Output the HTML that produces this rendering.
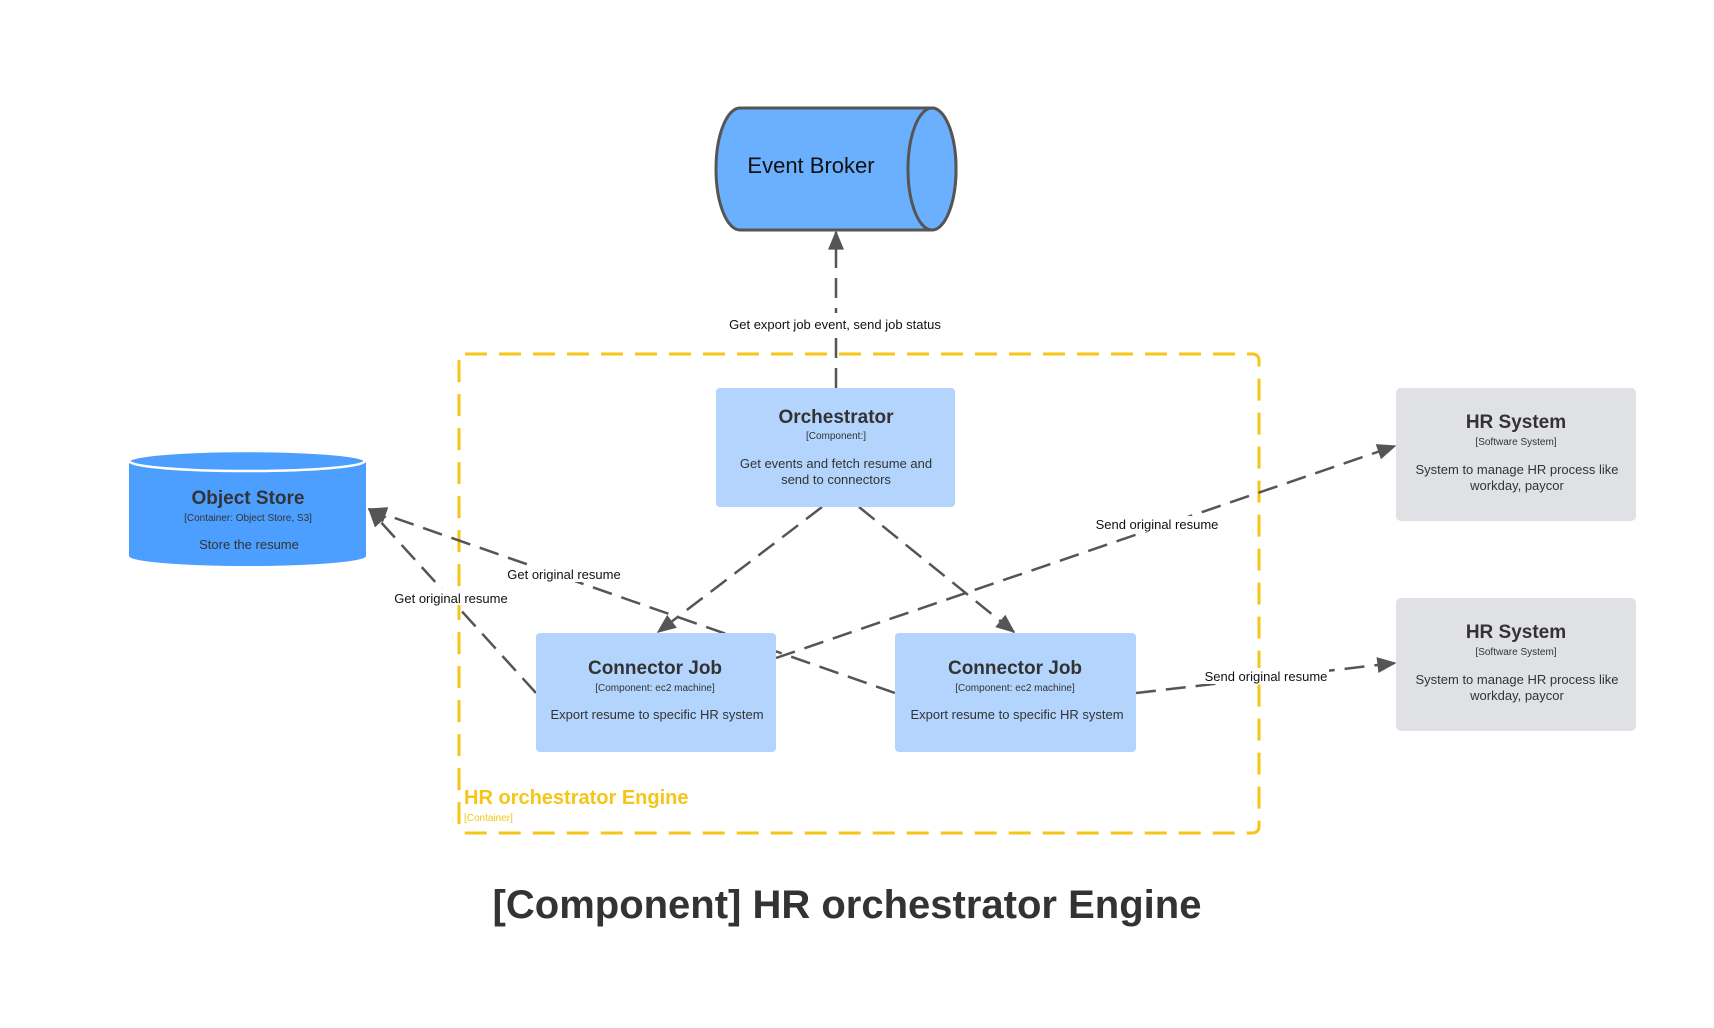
<!DOCTYPE html>
<html><head><meta charset="utf-8"><style>
html,body{margin:0;padding:0;background:#fff;}
svg text{font-family:"Liberation Sans",Arial,sans-serif;}
</style></head><body>
<svg width="1714" height="1023" viewBox="0 0 1714 1023" xmlns="http://www.w3.org/2000/svg">
<defs>
<marker id="ar" viewBox="0 0 12 10" refX="11" refY="5" markerWidth="20" markerHeight="16" orient="auto" markerUnits="userSpaceOnUse"><path d="M0,0 L12,5 L0,10 Z" fill="#555"/></marker>
</defs>
<!-- container -->
<rect x="459" y="354" width="800" height="479" rx="6" fill="none" stroke="#f5c518" stroke-width="3" stroke-dasharray="22 12"/>
<text x="464" y="804" font-size="20" font-weight="bold" fill="#f5c518">HR orchestrator Engine</text>
<text x="464" y="821" font-size="10" fill="#f5c518">[Container]</text>

<!-- Event Broker -->
<path d="M740,108 L932,108 A24,61 0 0 1 932,230 L740,230 A24,61 0 0 1 740,108 Z" fill="#6ab0fe" stroke="#555" stroke-width="3"/>
<ellipse cx="932" cy="169" rx="24" ry="61" fill="#6ab0fe" stroke="#555" stroke-width="3"/>
<text x="811" y="173" font-size="22" text-anchor="middle" fill="#111">Event Broker</text>

<!-- edges -->
<g stroke="#555" stroke-width="2.5" stroke-dasharray="20 10" fill="none" marker-end="url(#ar)">
<line x1="836" y1="388" x2="836" y2="232"/>
<line x1="822" y1="507" x2="658" y2="632"/>
<line x1="859" y1="507" x2="1014" y2="632"/>
<line x1="536" y1="693" x2="369" y2="509"/>
<line x1="895" y1="693" x2="369" y2="509"/>
<line x1="776" y1="658" x2="1395" y2="446"/>
<line x1="1136" y1="693" x2="1395" y2="663"/>
</g>
<g font-size="13" fill="#111" text-anchor="middle">
<rect x="722" y="313" width="226" height="17" fill="#fff"/>
<text x="835" y="329">Get export job event, send job status</text>
<rect x="393" y="589" width="116" height="16" fill="#fff"/>
<text x="451" y="603">Get original resume</text>
<rect x="506" y="566" width="116" height="16" fill="#fff"/>
<text x="564" y="579">Get original resume</text>
<rect x="1094" y="516" width="126" height="16" fill="#fff"/>
<text x="1157" y="529">Send original resume</text>
<rect x="1203" y="668" width="126" height="16" fill="#fff"/>
<text x="1266" y="681">Send original resume</text>
</g>

<!-- Orchestrator -->
<rect x="716" y="388" width="239" height="119" rx="4" fill="#b3d4fc"/>
<text x="836" y="423" font-size="19" font-weight="bold" text-anchor="middle" fill="#333">Orchestrator</text>
<text x="836" y="439" font-size="10" text-anchor="middle" fill="#333">[Component:]</text>
<text x="836" y="468" font-size="13" text-anchor="middle" fill="#333">Get events and fetch resume and</text>
<text x="836" y="484" font-size="13" text-anchor="middle" fill="#333">send to connectors</text>

<!-- Object Store -->
<path d="M129,461 L129,556 A118,10 0 0 0 366,556 L366,461 Z" fill="#4c9ffe"/>
<ellipse cx="247" cy="461" rx="118" ry="10" fill="#4c9ffe" stroke="#fff" stroke-width="2.5"/>
<text x="248" y="504" font-size="19" font-weight="bold" text-anchor="middle" fill="#333">Object Store</text>
<text x="248" y="521" font-size="10" text-anchor="middle" fill="#333">[Container: Object Store, S3]</text>
<text x="249" y="549" font-size="13" text-anchor="middle" fill="#333">Store the resume</text>

<!-- Connector Jobs -->
<rect x="536" y="633" width="240" height="119" rx="4" fill="#b3d4fc"/>
<text x="655" y="674" font-size="19" font-weight="bold" text-anchor="middle" fill="#333">Connector Job</text>
<text x="655" y="691" font-size="10" text-anchor="middle" fill="#333">[Component: ec2 machine]</text>
<text x="657" y="719" font-size="13" text-anchor="middle" fill="#333">Export resume to specific HR system</text>

<rect x="895" y="633" width="241" height="119" rx="4" fill="#b3d4fc"/>
<text x="1015" y="674" font-size="19" font-weight="bold" text-anchor="middle" fill="#333">Connector Job</text>
<text x="1015" y="691" font-size="10" text-anchor="middle" fill="#333">[Component: ec2 machine]</text>
<text x="1017" y="719" font-size="13" text-anchor="middle" fill="#333">Export resume to specific HR system</text>

<!-- HR Systems -->
<rect x="1396" y="388" width="240" height="133" rx="5" fill="#dfe1e5"/>
<text x="1516" y="428" font-size="19" font-weight="bold" text-anchor="middle" fill="#333">HR System</text>
<text x="1516" y="445" font-size="10" text-anchor="middle" fill="#333">[Software System]</text>
<text x="1517" y="474" font-size="13" text-anchor="middle" fill="#333">System to manage HR process like</text>
<text x="1517" y="490" font-size="13" text-anchor="middle" fill="#333">workday, paycor</text>

<rect x="1396" y="598" width="240" height="133" rx="5" fill="#dfe1e5"/>
<text x="1516" y="638" font-size="19" font-weight="bold" text-anchor="middle" fill="#333">HR System</text>
<text x="1516" y="655" font-size="10" text-anchor="middle" fill="#333">[Software System]</text>
<text x="1517" y="684" font-size="13" text-anchor="middle" fill="#333">System to manage HR process like</text>
<text x="1517" y="700" font-size="13" text-anchor="middle" fill="#333">workday, paycor</text>

<text x="847" y="918" font-size="40" font-weight="bold" text-anchor="middle" fill="#333">[Component] HR orchestrator Engine</text>
</svg>
</body></html>
